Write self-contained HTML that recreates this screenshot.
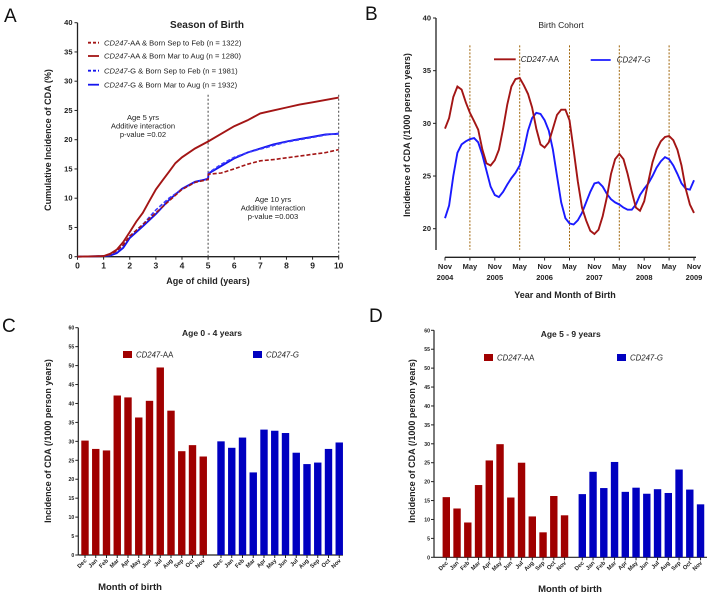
<!DOCTYPE html>
<html><head><meta charset="utf-8">
<style>
html,body{margin:0;padding:0;background:#fff;}
svg{display:block;font-family:"Liberation Sans",Arial,sans-serif;}
.t{font-weight:bold;fill:#222;}
</style></head>
<body>
<svg id="fig" width="708" height="593" viewBox="0 0 708 593" xmlns="http://www.w3.org/2000/svg">
<text x="4" y="22" font-size="19" fill="#111">A</text>
<text x="365" y="20" font-size="19" fill="#111">B</text>
<text x="2" y="332" font-size="19" fill="#111">C</text>
<text x="369" y="322" font-size="19" fill="#111">D</text>
<g id="A"></g>
<g id="B"></g>
<g id="C"></g>
<g id="D"></g>
</svg>
<script>
// Panel A data
const aX = [0,1,1.25,1.5,1.75,2,2.25,2.5,2.75,3,3.25,3.5,3.75,4,4.5,5,5.5,6,6.5,7,7.5,8,8.5,9,9.5,10];
const aRedSolid = [0,0.1,0.5,1.2,2.5,4.2,6,7.5,9.5,11.5,13,14.5,16,17,18.5,19.7,21,22.3,23.3,24.5,25,25.5,26,26.4,26.8,27.2];
const aX2 = [0,1,1.25,1.5,1.75,2,2.5,3,3.5,4,4.5,5,5.01,5.5,6,6.5,7,7.5,8,8.5,9,9.5,10];
const aRedDash = [0,0.1,0.4,1,2,3.5,5.5,7.5,9.5,11.5,12.7,13.2,14.1,14.3,15,15.8,16.4,16.6,16.9,17.2,17.5,17.8,18.3];
const aBlueDash = [0,0.1,0.3,0.9,2,3.5,5.5,8,10,11.5,12.7,13.4,14.3,15.8,17,17.8,18.4,19,19.6,20,20.4,20.8,21.1];
const aBlueSolid = [0,0.1,0.2,0.6,1.5,3.2,5.2,7.3,9.7,11.6,12.8,13.3,14.2,15.5,16.8,17.8,18.5,19.2,19.7,20.1,20.5,20.9,21];
const aYTicks = [0,5,10,15,20,25,30,35,40];
const aXTicks = [0,1,2,3,4,5,6,7,8,9,10];
// Panel B data
const bRed = [29.5,30.5,32.5,33.5,33.2,32,31,30.2,29.4,27.5,26.2,26,26.5,27.5,29.5,31.8,33.5,34.2,34.3,33.6,32.8,31.5,29.5,28,27.7,28.2,29.5,30.8,31.3,31.3,30.3,27.5,24.5,22,20.8,19.8,19.5,19.9,21.2,23,25.2,26.6,27.1,26.6,25.2,23.5,22,21.7,22.6,24.5,26.3,27.5,28.3,28.7,28.8,28.4,27.5,26,23.8,22.3,21.5];
const bBlue = [21,22.2,25,27.2,28,28.3,28.5,28.6,28.2,27,25.5,24,23.2,23,23.5,24.2,24.8,25.3,26,27.5,29.3,30.5,31,30.9,30.3,29.3,27.5,25,22.5,21,20.5,20.4,20.8,21.5,22.5,23.5,24.3,24.4,24,23.3,22.8,22.5,22.3,22,21.8,21.8,22.3,23.2,23.8,24.3,25,25.8,26.4,26.8,26.6,26,25.2,24.3,23.8,23.7,24.6];
const bYTicks = [20,25,30,35,40];
const bXLabels = [["Nov","2004"],["May",""],["Nov","2005"],["May",""],["Nov","2006"],["May",""],["Nov","2007"],["May",""],["Nov","2008"],["May",""],["Nov","2009"]];
const bMayMonths = [6,18,30,42,54];
// Panel C/D data
const months = ["Dec","Jan","Feb","Mar","Apr","May","Jun","Jul","Aug","Sep","Oct","Nov"];
const cAA = [30.2,28,27.6,42.1,41.6,36.3,40.7,49.5,38.1,27.4,29,26];
const cG = [30,28.3,31,21.8,33.1,32.8,32.2,27,24,24.4,28,29.7];
const dAA = [15.9,12.9,9.2,19.1,25.6,29.9,15.8,25,10.8,6.6,16.2,11.1];
const dG = [16.7,22.6,18.3,25.2,17.3,18.4,16.8,18,17,23.2,17.9,14];
const barTicks = [0,5,10,15,20,25,30,35,40,45,50,55,60];

const NS="http://www.w3.org/2000/svg";
function mk(parent,tag,attrs,text){const e=document.createElementNS(NS,tag);for(const k in attrs)e.setAttribute(k,attrs[k]);if(text!==undefined)e.textContent=text;parent.appendChild(e);return e;}
const RED="#a31515", BLUE="#1515ee";

// ---------- Panel A ----------
(function(){
const g=document.getElementById('A');
const x0=77.5,x1=338.7,y0=256.7,y1=22.7;
const sx=v=>x0+(x1-x0)*v/10, sy=v=>y0-(y0-y1)*v/40;
let e=mk(g,'line',{x1:x0,y1:y1,x2:x0,y2:y0,stroke:'#222','stroke-width':1.3});

e=mk(g,'line',{x1:x0,y1:y0,x2:x1,y2:y0,stroke:'#222','stroke-width':1.3});

aYTicks.forEach(v=>{mk(g,'line',{x1:x0-3,y1:sy(v),x2:x0,y2:sy(v),stroke:'#222'});
 e=mk(g,'text',{x:x0-5,y:sy(v)+2.5,'font-size':7.5,'text-anchor':'end',class:'t'},v);
 });
aXTicks.forEach(v=>{mk(g,'line',{x1:sx(v),y1:y0,x2:sx(v),y2:y0+3,stroke:'#222'});
 e=mk(g,'text',{x:sx(v),y:y0+12,'font-size':8.5,'text-anchor':'middle',class:'t'},v);
 });
e=mk(g,'text',{x:208,y:284,'font-size':9,'text-anchor':'middle',class:'t'},'Age of child (years)');

e=mk(g,'text',{x:0,y:0,'font-size':9,'text-anchor':'middle',class:'t',transform:'translate(51,140) rotate(-90)'},'Cumulative Incidence of CDA (%)');

e=mk(g,'text',{x:207,y:28,'font-size':10,'text-anchor':'middle',class:'t'},'Season of Birth');

[5,10].forEach(v=>{e=mk(g,'line',{x1:sx(v),y1:sy(0),x2:sx(v),y2:sy(28),stroke:'#444','stroke-dasharray':'2,2','stroke-width':1});
 });
function path(xs,ys){return xs.map((x,i)=>(i?'L':'M')+sx(x).toFixed(1)+','+sy(ys[i]).toFixed(1)).join(' ');}
e=mk(g,'path',{d:path(aX2,aBlueSolid),fill:'none',stroke:BLUE,'stroke-width':1.9});

e=mk(g,'path',{d:path(aX2,aBlueDash),fill:'none',stroke:'#3a3aff','stroke-width':1.6,'stroke-dasharray':'4,2'});

e=mk(g,'path',{d:path(aX2,aRedDash),fill:'none',stroke:RED,'stroke-width':1.6,'stroke-dasharray':'4,2'});

e=mk(g,'path',{d:path(aX,aRedSolid),fill:'none',stroke:RED,'stroke-width':1.9});

const leg=[[RED,true,'CD247','-AA & Born Sep to Feb (n = 1322)'],[RED,false,'CD247','-AA & Born Mar to Aug (n = 1280)'],[BLUE,true,'CD247','-G   & Born Sep to Feb (n = 1981)'],[BLUE,false,'CD247','-G   & Born Mar to Aug (n = 1932)']];
const ly=[42.7,56,70.7,84.7];
leg.forEach((l,i)=>{e=mk(g,'line',{x1:88,y1:ly[i],x2:99,y2:ly[i],stroke:l[0],'stroke-width':1.8,'stroke-dasharray':l[1]?'3,2':'none'});
 
 const t=mk(g,'text',{x:104,y:ly[i]+2.7,'font-size':7.6,fill:'#222'});
 
 mk(t,'tspan',{'font-style':'italic'},l[2]);mk(t,'tspan',{},l[3]);});
[['Age 5 yrs',120],['Additive interaction',128.5],['p-value =0.02',137]].forEach(a=>{e=mk(g,'text',{x:143,y:a[1],'font-size':7.6,'text-anchor':'middle',fill:'#222'},a[0]);
 });
[['Age 10 yrs',202],['Additive Interaction',210.5],['p-value =0.003',219]].forEach(a=>{e=mk(g,'text',{x:273,y:a[1],'font-size':7.6,'text-anchor':'middle',fill:'#222'},a[0]);
 });
})();

// ---------- Panel B ----------
(function(){
const g=document.getElementById('B');
const ax=436,xs0=445,xs1=694,y20=228.7,y40=18;
const sx=m=>xs0+(xs1-xs0)*m/60, sy=v=>y20-(y20-y40)*(v-20)/20;
let e=mk(g,'line',{x1:ax,y1:y40,x2:ax,y2:250,stroke:'#222','stroke-width':1.3});

e=mk(g,'line',{x1:xs0,y1:257.3,x2:xs1+2,y2:257.3,stroke:'#222','stroke-width':1.3});

bYTicks.forEach(v=>{mk(g,'line',{x1:ax-3,y1:sy(v),x2:ax,y2:sy(v),stroke:'#222'});
 e=mk(g,'text',{x:ax-5,y:sy(v)+2.5,'font-size':7.5,'text-anchor':'end',class:'t'},v);
 });
bXLabels.forEach((l,i)=>{const x=sx(i*6);mk(g,'line',{x1:x,y1:257.3,x2:x,y2:260.5,stroke:'#222'});
 e=mk(g,'text',{x:x,y:269,'font-size':7.5,'text-anchor':'middle',class:'t'},l[0]);
 
 if(l[1]){e=mk(g,'text',{x:x,y:280,'font-size':7.5,'text-anchor':'middle',class:'t'},l[1]);
 }});
bMayMonths.forEach(m=>{e=mk(g,'line',{x1:sx(m),y1:sy(37.4),x2:sx(m),y2:sy(18),stroke:'#a0650a','stroke-dasharray':'2,1.5','stroke-width':1});
 });
function path(ys){return ys.map((y,i)=>(i?'L':'M')+sx(i).toFixed(1)+','+sy(y).toFixed(1)).join(' ');}
e=mk(g,'path',{d:path(bBlue),fill:'none',stroke:'#1a1aff','stroke-width':1.9});

e=mk(g,'path',{d:path(bRed),fill:'none',stroke:RED,'stroke-width':1.9});

e=mk(g,'text',{x:561,y:28,'font-size':8.5,'text-anchor':'middle',fill:'#222'},'Birth Cohort');

e=mk(g,'text',{x:565,y:298,'font-size':9,'text-anchor':'middle',class:'t'},'Year and Month of Birth');

e=mk(g,'text',{x:0,y:0,'font-size':9,'text-anchor':'middle',class:'t',transform:'translate(410,135) rotate(-90)'},'Incidence of CDA (/1000 person years)');

e=mk(g,'line',{x1:494,y1:59.3,x2:515.7,y2:59.3,stroke:RED,'stroke-width':1.8});

let t=mk(g,'text',{x:520.7,y:62,'font-size':8,fill:'#222'});

mk(t,'tspan',{'font-style':'italic'},'CD247');mk(t,'tspan',{},'-AA');
e=mk(g,'line',{x1:590.7,y1:60,x2:610.7,y2:60,stroke:'#1a1aff','stroke-width':1.8});

t=mk(g,'text',{x:616.7,y:62.5,'font-size':8,fill:'#222','font-style':'italic'},'CD247-G');

})();

// ---------- Bar panels ----------
function bars(id,cfg,aa,gg){
const g=document.getElementById(id);
const sy=v=>cfg.y0-(cfg.y0-cfg.y60)*v/60;
let e=mk(g,'line',{x1:cfg.ax,y1:cfg.y60,x2:cfg.ax,y2:cfg.y0,stroke:'#222','stroke-width':1.2});

e=mk(g,'line',{x1:cfg.ax,y1:cfg.y0,x2:cfg.xend,y2:cfg.y0,stroke:'#222','stroke-width':1.2});

barTicks.forEach(v=>{mk(g,'line',{x1:cfg.ax-3,y1:sy(v),x2:cfg.ax,y2:sy(v),stroke:'#222'});
 e=mk(g,'text',{x:cfg.ax-4,y:sy(v)+2,'font-size':5.2,'text-anchor':'end',class:'t'},v);
 });
const bw=7.4;
[[aa,cfg.aa0,'#a00000','bar-aa'],[gg,cfg.g0,'#0000c0','bar-g']].forEach(s=>{
 s[0].forEach((v,i)=>{const cx=s[1]+i*cfg.step;
  e=mk(g,'rect',{x:cx-bw/2,y:sy(v),width:bw,height:sy(0)-sy(v),fill:s[2]});
  
  mk(g,'line',{x1:cx,y1:cfg.y0,x2:cx,y2:cfg.y0+3,stroke:'#222'});
  e=mk(g,'text',{x:0,y:0,'font-size':5.8,'text-anchor':'end',class:'t',transform:`translate(${cx+2},${cfg.y0+6}) rotate(-45)`},months[i]);
  });});
e=mk(g,'text',{x:cfg.tx,y:cfg.ty,'font-size':8.5,'text-anchor':'middle',class:'t'},cfg.title);

e=mk(g,'text',{x:cfg.mx,y:cfg.my,'font-size':9.5,'text-anchor':'middle',class:'t'},'Month of birth');

e=mk(g,'text',{x:0,y:0,'font-size':9,'text-anchor':'middle',class:'t',transform:`translate(${cfg.ytx},${cfg.yty}) rotate(-90)`},'Incidence of CDA (/1000 person years)');

e=mk(g,'rect',{x:cfg.l1-4,y:cfg.ly-3.5,width:9,height:7,fill:'#a00000'});

let t=mk(g,'text',{x:cfg.l1+9,y:cfg.ly+2.8,'font-size':7.8,fill:'#222'});

mk(t,'tspan',{'font-style':'italic'},'CD247');mk(t,'tspan',{},'-AA');
e=mk(g,'rect',{x:cfg.l2-4,y:cfg.ly-3.5,width:9,height:7,fill:'#0000c0'});

t=mk(g,'text',{x:cfg.l2+9,y:cfg.ly+2.8,'font-size':7.8,fill:'#222','font-style':'italic'},'CD247-G');

}
bars('C',{ax:78.3,y0:555,y60:327.7,xend:343,aa0:85,g0:221,step:10.75,title:'Age 0 - 4 years',tx:212,ty:336,mx:130,my:590,ytx:51,yty:441,l1:127,l2:257,ly:354.5},cAA,cG);
bars('D',{ax:434,y0:557.3,y60:330.3,xend:707,aa0:446.3,g0:582.3,step:10.75,title:'Age 5 - 9 years',tx:570.7,ty:337,mx:570,my:592,ytx:415,yty:441,l1:488,l2:621,ly:357.5},dAA,dG);
</script>
</body></html>
